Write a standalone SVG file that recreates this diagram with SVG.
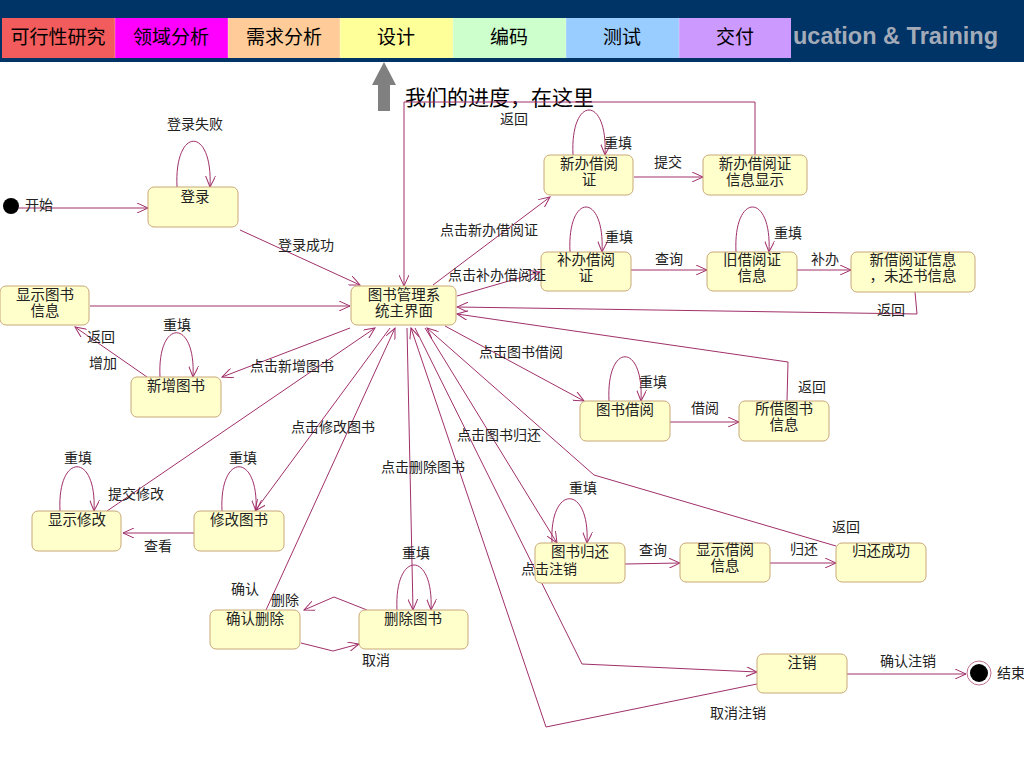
<svg xmlns="http://www.w3.org/2000/svg" width="1024" height="768" viewBox="0 0 1024 768">
<defs>
<style>
.bar{font-family:"Noto Sans CJK SC","Noto Sans",sans-serif;font-size:19px;fill:#000;text-anchor:middle}
.node rect{fill:#FFFFCC;stroke:#C9A878;stroke-width:1}
.nt{font-family:"Liberation Sans","Noto Sans CJK SC",sans-serif;font-size:14.5px;fill:#222;text-anchor:middle}
.lb{font-family:"Liberation Sans","Noto Sans CJK SC",sans-serif;font-size:14px;fill:#222;text-anchor:middle}
.e{fill:none;stroke:#A0306A;stroke-width:1;marker-end:url(#arr)}
</style>
<marker id="arr" viewBox="0 0 12 10" refX="11" refY="5" markerWidth="12" markerHeight="10" markerUnits="userSpaceOnUse" orient="auto">
<path d="M0,0 L11,5 L0,10" fill="none" stroke="#A0306A" stroke-width="1"/>
</marker>
</defs>
<rect x="0" y="0" width="1024" height="768" fill="#FFFFFF"/>
<g id="header">
<rect x="0" y="0" width="1024" height="62" fill="#003366"/>
<rect x="2" y="18" width="113" height="40" fill="#F25C5C"/>
<rect x="115" y="18" width="113" height="40" fill="#FF00FF"/>
<rect x="228" y="18" width="112" height="40" fill="#FFCC99"/>
<rect x="340" y="18" width="113" height="40" fill="#FFFF99"/>
<rect x="453" y="18" width="113" height="40" fill="#CCFFCC"/>
<rect x="566" y="18" width="113" height="40" fill="#99CCFF"/>
<rect x="679" y="18" width="112" height="40" fill="#CC99FF"/>
<g stroke="#FFFFFF" stroke-width="0.6" opacity="0.5">
<line x1="115" y1="18" x2="115" y2="58"/><line x1="228" y1="18" x2="228" y2="58"/><line x1="340" y1="18" x2="340" y2="58"/><line x1="453" y1="18" x2="453" y2="58"/><line x1="566" y1="18" x2="566" y2="58"/><line x1="679" y1="18" x2="679" y2="58"/>
</g>
<text class="bar" x="58" y="44">可行性研究</text>
<text class="bar" x="171" y="44">领域分析</text>
<text class="bar" x="284" y="44">需求分析</text>
<text class="bar" x="396" y="44">设计</text>
<text class="bar" x="509" y="44">编码</text>
<text class="bar" x="622" y="44">测试</text>
<text class="bar" x="735" y="44">交付</text>
<text x="793" y="44" font-family="Liberation Sans, Arial, sans-serif" font-size="23.5" font-weight="bold" fill="#A3ABB8">ucation &amp; Training</text>
<polygon points="384,62 396,85 390,85 390,111 378,111 378,85 372,85" fill="#808080"/>
<text x="405" y="105" font-family="Liberation Sans, Noto Sans CJK SC, sans-serif" font-size="21" fill="#000">我们的进度，在这里</text>
</g>
<g id="connectors">
<path class="e" d="M19,208 L148,208"/>
<path class="e" d="M177,187 C174,126 213,126 210,187"/>
<path class="e" d="M240,230 L360,285"/>
<path class="e" d="M90,306 L350,306"/>
<path class="e" d="M350,328 L222,377"/>
<path class="e" d="M147,377 L75,327"/>
<path class="e" d="M160,377 C157,318 196,318 193,377"/>
<path class="e" d="M107,511 L375,328"/>
<path class="e" d="M60,511 C57,452 97,452 94,511"/>
<path class="e" d="M390,328 L255,511"/>
<path class="e" d="M222,511 C219,452 259,452 256,511"/>
<path class="e" d="M194,533 L123,533"/>
<path class="e" d="M266,610 L395,328"/>
<path class="e" d="M367,610 L334,597 L304,610"/>
<path class="e" d="M301,643 L333,651 L359,644"/>
<path class="e" d="M407,328 L413,610"/>
<path class="e" d="M397,610 C394,550 434,550 431,610"/>
<path class="e" d="M433,285 L550,197"/>
<path class="e" d="M573,155 C570,95 608,95 605,155"/>
<path class="e" d="M634,177 L703,177"/>
<path class="e" d="M755,155 L755,102 L404,102 L404,286"/>
<path class="e" d="M457,296 L540,272"/>
<path class="e" d="M570,252 C567,192 605,192 602,252"/>
<path class="e" d="M631,270 L707,270"/>
<path class="e" d="M736,252 C733,192 772,192 769,252"/>
<path class="e" d="M797,270 L851,270"/>
<path class="e" d="M915,292 L917,314 L457,307"/>
<path class="e" d="M445,326 L584,401"/>
<path class="e" d="M609,401 C606,342 644,342 641,401"/>
<path class="e" d="M670,422 L739,422"/>
<path class="e" d="M787,401 L788,362 L457,314"/>
<path class="e" d="M425,328 L557,543"/>
<path class="e" d="M552,543 C549,484 590,484 587,543"/>
<path class="e" d="M625,564 L680,563"/>
<path class="e" d="M770,563 L836,563"/>
<path class="e" d="M836,546 L594,475 L427,328"/>
<path class="e" d="M415,328 L582,664 L757,672"/>
<path class="e" d="M757,684 L546,727 L411,328"/>
<path class="e" d="M847,674 L966,674"/>
</g>
<g id="start"><circle cx="11" cy="206" r="8" fill="#000"/></g>
<g id="end"><circle cx="979" cy="673" r="12" fill="#FFF" stroke="#C07090" stroke-width="1"/><circle cx="979" cy="673" r="9" fill="#000"/></g>
<g id="n-login" class="node"><rect x="148" y="187" width="90" height="40" rx="6"/><text class="nt" x="195" y="202">登录</text></g>
<g id="n-main" class="node"><rect x="351" y="286" width="105" height="39" rx="6"/><text class="nt" y="300"><tspan x="404">图书管理系</tspan><tspan x="404" dy="16">统主界面</tspan></text></g>
<g id="n-showbook" class="node"><rect x="0" y="286" width="89" height="39" rx="6"/><text class="nt" y="300"><tspan x="45">显示图书</tspan><tspan x="45" dy="16">信息</tspan></text></g>
<g id="n-addbook" class="node"><rect x="131" y="377" width="90" height="40" rx="6"/><text class="nt" x="176" y="391">新增图书</text></g>
<g id="n-showmod" class="node"><rect x="32" y="511" width="89" height="40" rx="6"/><text class="nt" x="77" y="525">显示修改</text></g>
<g id="n-modbook" class="node"><rect x="194" y="511" width="90" height="40" rx="6"/><text class="nt" x="239" y="525">修改图书</text></g>
<g id="n-confdel" class="node"><rect x="210" y="610" width="90" height="39" rx="6"/><text class="nt" x="255" y="624">确认删除</text></g>
<g id="n-delbook" class="node"><rect x="359" y="610" width="109" height="39" rx="6"/><text class="nt" x="413" y="624">删除图书</text></g>
<g id="n-newcard" class="node"><rect x="544" y="155" width="89" height="40" rx="6"/><text class="nt" y="169"><tspan x="589">新办借阅</tspan><tspan x="589" dy="16">证</tspan></text></g>
<g id="n-newcardinfo" class="node"><rect x="703" y="155" width="104" height="40" rx="6"/><text class="nt" y="169"><tspan x="755">新办借阅证</tspan><tspan x="755" dy="16">信息显示</tspan></text></g>
<g id="n-reissue" class="node"><rect x="541" y="252" width="90" height="39" rx="6"/><text class="nt" y="265"><tspan x="586">补办借阅</tspan><tspan x="586" dy="16">证</tspan></text></g>
<g id="n-oldcard" class="node"><rect x="707" y="252" width="90" height="39" rx="6"/><text class="nt" y="265"><tspan x="752">旧借阅证</tspan><tspan x="752" dy="16">信息</tspan></text></g>
<g id="n-newcardunret" class="node"><rect x="851" y="252" width="124" height="40" rx="6"/><text class="nt" y="265"><tspan x="913">新借阅证信息</tspan><tspan x="913" dy="16">，未还书信息</tspan></text></g>
<g id="n-borrow" class="node"><rect x="580" y="401" width="90" height="40" rx="6"/><text class="nt" x="625" y="415">图书借阅</text></g>
<g id="n-borrowinfo" class="node"><rect x="739" y="401" width="90" height="40" rx="6"/><text class="nt" y="414"><tspan x="784">所借图书</tspan><tspan x="784" dy="16">信息</tspan></text></g>
<g id="n-return" class="node"><rect x="535" y="543" width="90" height="40" rx="6"/><text class="nt" x="580" y="557">图书归还</text></g>
<g id="n-showborrow" class="node"><rect x="680" y="543" width="90" height="39" rx="6"/><text class="nt" y="555"><tspan x="725">显示借阅</tspan><tspan x="725" dy="16">信息</tspan></text></g>
<g id="n-retok" class="node"><rect x="836" y="543" width="90" height="39" rx="6"/><text class="nt" x="881" y="556">归还成功</text></g>
<g id="n-logout" class="node"><rect x="757" y="654" width="90" height="39" rx="6"/><text class="nt" x="802" y="668">注销</text></g>
<g id="labels">
<text class="lb" x="195" y="129">登录失败</text>
<text class="lb" x="25" y="210" style="text-anchor:start">开始</text>
<text class="lb" x="306" y="250">登录成功</text>
<text class="lb" x="292" y="371">点击新增图书</text>
<text class="lb" x="101" y="342">返回</text>
<text class="lb" x="103" y="368">增加</text>
<text class="lb" x="177" y="330">重填</text>
<text class="lb" x="136" y="499">提交修改</text>
<text class="lb" x="78" y="463">重填</text>
<text class="lb" x="333" y="432">点击修改图书</text>
<text class="lb" x="243" y="463">重填</text>
<text class="lb" x="158" y="551">查看</text>
<text class="lb" x="245" y="594">确认</text>
<text class="lb" x="285" y="605">删除</text>
<text class="lb" x="376" y="665">取消</text>
<text class="lb" x="423" y="472">点击删除图书</text>
<text class="lb" x="416" y="558">重填</text>
<text class="lb" x="489" y="235">点击新办借阅证</text>
<text class="lb" x="618" y="148">重填</text>
<text class="lb" x="668" y="167">提交</text>
<text class="lb" x="514" y="124">返回</text>
<text class="lb" x="497" y="280">点击补办借阅证</text>
<text class="lb" x="619" y="242">重填</text>
<text class="lb" x="669" y="264">查询</text>
<text class="lb" x="788" y="238">重填</text>
<text class="lb" x="825" y="264">补办</text>
<text class="lb" x="891" y="315">返回</text>
<text class="lb" x="521" y="357">点击图书借阅</text>
<text class="lb" x="653" y="387">重填</text>
<text class="lb" x="705" y="413">借阅</text>
<text class="lb" x="812" y="392">返回</text>
<text class="lb" x="499" y="440">点击图书归还</text>
<text class="lb" x="583" y="493">重填</text>
<text class="lb" x="653" y="555">查询</text>
<text class="lb" x="804" y="554">归还</text>
<text class="lb" x="846" y="532">返回</text>
<text class="lb" x="549" y="574">点击注销</text>
<text class="lb" x="738" y="718">取消注销</text>
<text class="lb" x="908" y="666">确认注销</text>
<text class="lb" x="997" y="678" style="text-anchor:start">结束</text>
</g>
</svg>
